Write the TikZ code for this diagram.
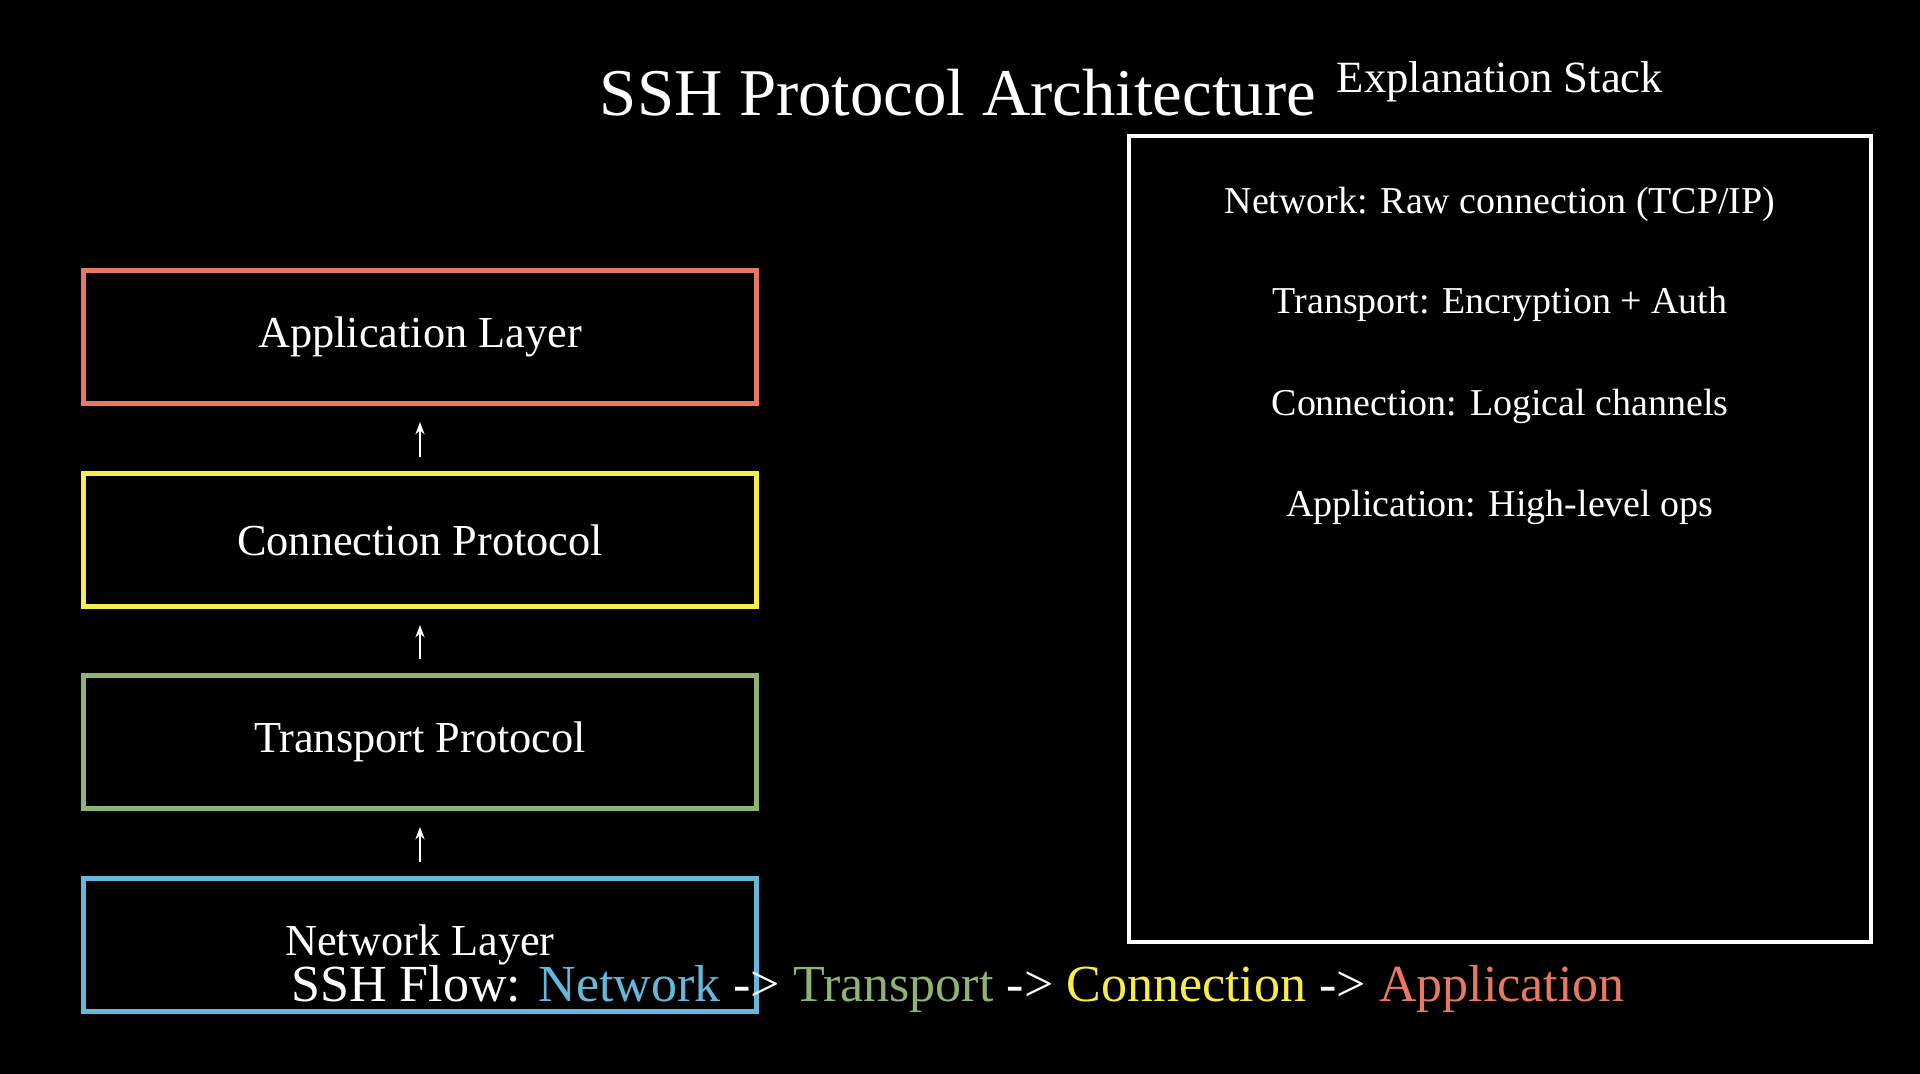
\documentclass[tikz,border=0pt]{standalone}
\usepackage{fontspec}
\setmainfont{Liberation Serif}
\usetikzlibrary{arrows.meta}
\definecolor{appc}{HTML}{E8785E}
\definecolor{conc}{HTML}{F8EC4A}
\definecolor{trac}{HTML}{8DB56F}
\definecolor{netc}{HTML}{66B7DC}
\begin{document}
\begin{tikzpicture}[x=0.01cm, y=-0.01cm, >={Stealth[length=3.5pt,width=2.6pt]},
  layer/.style={draw, line width=1.4pt, minimum width=6.72cm, minimum height=1.33cm,
    inner sep=0pt, text=white, font=\fontsize{12.6}{15}\selectfont},
  upline/.style={->, white, line width=0.6pt, shorten >=0.16cm, shorten <=0.14cm},
  note/.style={text=white, font=\fontsize{10.8}{13}\selectfont}]
  \fill[black] (0,0) rectangle (1920,1074);
  \useasboundingbox (0,0) rectangle (1920,1074);
  % title
  \node[text=white, font=\fontsize{19}{22}\selectfont] (title) at (958,93) {SSH Protocol Architecture};
  \node[text=white, font=\fontsize{12.7}{15}\selectfont] (stacktitle) at (1500,82) {Explanation Stack};
  % layer stack
  \node[layer, appc] (app) at (420,337) {\textcolor{white}{Application Layer}};
  \node[layer, conc] (con) at (420,540) {\textcolor{white}{Connection Protocol}};
  \node[layer, trac] (tra) at (420,742) {\textcolor{white}{Transport Protocol}};
  \node[layer, netc] (net) at (420,945) {\textcolor{white}{Network Layer}};
  \draw[upline] (con.north) -- (app.south);
  \draw[upline] (tra.north) -- (con.south);
  \draw[upline] (net.north) -- (tra.south);
  % explanation box
  \node[draw=white, line width=1.2pt, minimum width=7.41cm, minimum height=8.06cm, inner sep=0pt] (stack) at (1500,539) {};
  \node[note] (n1) at (1500,204) {Network: Raw connection (TCP/IP)};
  \node[note] (n2) at (1500,304) {Transport: Encryption + Auth};
  \node[note] (n3) at (1500,406) {Connection: Logical channels};
  \node[note] (n4) at (1500,507) {Application: High-level ops};
  % flow line
  \node[text=white, font=\fontsize{14.8}{18}\selectfont] (flow) at (958,989)
    {SSH Flow: \textcolor{netc}{Network} -> \textcolor{trac}{Transport} -> \textcolor{conc}{Connection} -> \textcolor{appc}{Application}};
\end{tikzpicture}
\end{document}
